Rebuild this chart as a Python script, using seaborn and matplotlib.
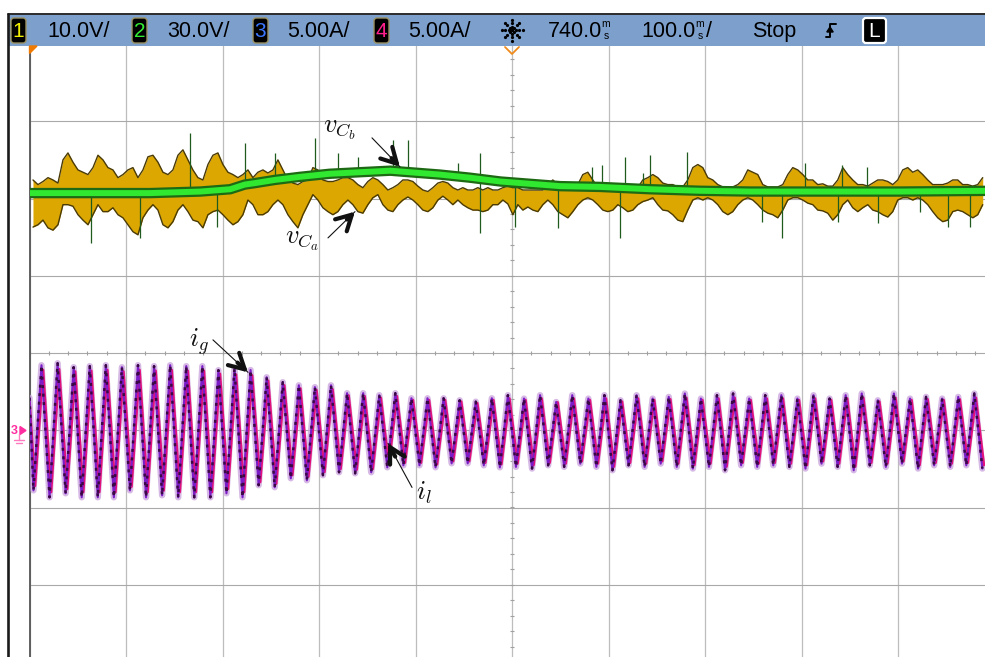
import numpy as np
import matplotlib
matplotlib.use("Agg")
import matplotlib.pyplot as plt
import seaborn as sns
from matplotlib.patches import Rectangle, FancyBboxPatch, Polygon, FancyArrowPatch

# ------------------------------------------------------------------ data
# timebase 100 ms/div, trigger at 740 ms -> screen spans 240 .. 1240 ms
T_START, T_END = 240.0, 1240.0
Y_MIN, Y_MAX = -4.0, 4.0          # 8 vertical divisions

# v_Ca (ch1) band, upper / lower envelope in screen divisions,
# samples every 5.18 ms starting at 243.6 ms
VC_T0, VC_DT = 243.6, 5.18
vca_hi = [2.24, 2.18, 2.22, 2.27, 2.24, 2.20, 2.50, 2.59, 2.47, 2.37,
          2.34, 2.31, 2.40, 2.56, 2.50, 2.40, 2.37, 2.27, 2.31, 2.37,
          2.40, 2.27, 2.37, 2.54, 2.56, 2.47, 2.34, 2.31, 2.37, 2.56,
          2.63, 2.50, 2.37, 2.27, 2.24, 2.44, 2.56, 2.59, 2.44, 2.34,
          2.31, 2.27, 2.31, 2.37, 2.27, 2.34, 2.37, 2.33, 2.37, 2.50,
          2.37, 2.24, 2.20, 2.18, 2.22, 2.24, 2.40, 2.37, 2.24, 2.22,
          2.22, 2.24, 2.27, 2.27, 2.24, 2.18, 2.14, 2.22, 2.27, 2.24,
          2.18, 2.11, 2.14, 2.18, 2.24, 2.24, 2.22, 2.16, 2.11, 2.09,
          2.14, 2.20, 2.22, 2.20, 2.14, 2.11, 2.14, 2.11, 2.11, 2.14,
          2.11, 2.14, 2.11, 2.11, 2.14, 2.16, 2.14, 2.14, 2.11, 2.11,
          2.11, 2.11, 2.11, 2.18, 2.24, 2.18, 2.14, 2.14, 2.14, 2.18,
          2.31, 2.34, 2.24, 2.14, 2.14, 2.14, 2.14, 2.18, 2.14, 2.14,
          2.16, 2.14, 2.24, 2.27, 2.31, 2.27, 2.20, 2.18, 2.18, 2.15,
          2.15, 2.24, 2.40, 2.44, 2.40, 2.27, 2.24, 2.18, 2.15, 2.14,
          2.15, 2.18, 2.24, 2.37, 2.34, 2.31, 2.18, 2.15, 2.15, 2.15,
          2.18, 2.31, 2.40, 2.37, 2.31, 2.24, 2.24, 2.18, 2.19, 2.16,
          2.16, 2.24, 2.40, 2.31, 2.24, 2.18, 2.18, 2.16, 2.20, 2.24,
          2.24, 2.22, 2.18, 2.24, 2.37, 2.40, 2.34, 2.37, 2.31, 2.24,
          2.18, 2.18, 2.18, 2.20, 2.24, 2.24, 2.18, 2.18, 2.16, 2.18,
          2.27]
vca_lo = [1.63, 1.66, 1.72, 1.62, 1.59, 1.66, 1.92, 1.92, 1.90, 1.79,
          1.72, 1.66, 1.79, 1.92, 1.83, 1.83, 1.88, 1.79, 1.75, 1.66,
          1.57, 1.53, 1.75, 1.85, 1.92, 1.85, 1.66, 1.62, 1.70, 1.85,
          1.92, 1.83, 1.72, 1.70, 1.62, 1.79, 1.83, 1.85, 1.79, 1.72,
          1.66, 1.70, 1.79, 1.98, 1.92, 1.79, 1.79, 1.83, 1.92, 1.98,
          1.92, 1.79, 1.70, 1.62, 1.79, 1.92, 2.05, 1.98, 1.88, 1.83,
          1.79, 1.83, 1.92, 1.98, 1.92, 1.83, 1.81, 1.92, 2.01, 2.05,
          1.92, 1.85, 1.83, 1.92, 1.98, 2.02, 1.98, 1.92, 1.85, 1.83,
          1.88, 1.98, 2.03, 1.98, 1.92, 1.98, 1.92, 1.88, 1.85, 1.85,
          1.83, 1.85, 1.92, 1.92, 1.98, 1.93, 1.79, 1.92, 1.85, 1.89,
          1.85, 1.83, 1.92, 1.98, 1.92, 1.83, 1.79, 1.75, 1.83, 1.92,
          1.98, 2.01, 1.98, 1.92, 1.85, 1.83, 1.85, 1.92, 1.88, 1.83,
          1.85, 1.92, 1.96, 1.98, 2.01, 1.92, 1.85, 1.84, 1.79, 1.72,
          1.70, 1.85, 1.98, 2.01, 1.98, 2.01, 1.98, 1.92, 1.83, 1.79,
          1.83, 1.92, 1.98, 2.01, 1.98, 1.92, 1.85, 1.81, 1.79, 1.75,
          1.85, 1.98, 2.01, 2.01, 1.98, 1.94, 1.92, 1.85, 1.84, 1.81,
          1.72, 1.79, 1.92, 1.98, 1.88, 1.83, 1.88, 1.92, 1.85, 1.83,
          1.79, 1.76, 1.83, 1.98, 2.01, 2.01, 1.98, 2.01, 1.98, 1.92,
          1.83, 1.75, 1.70, 1.72, 1.83, 1.85, 1.83, 1.79, 1.75, 1.79,
          1.92]

# v_Cb (ch2) trace centre, screen divisions
vcb_t = [240, 313, 365, 417, 448, 463, 474, 494, 520, 551, 582, 614, 634,
         665, 696, 728, 759, 790, 831, 883, 935, 987, 1038, 1142, 1240]
vcb_v = [2.07, 2.07, 2.07, 2.09, 2.12, 2.18, 2.20, 2.24, 2.28, 2.32, 2.34,
         2.36, 2.34, 2.31, 2.27, 2.22, 2.19, 2.16, 2.15, 2.12, 2.10, 2.09,
         2.09, 2.09, 2.10]

# narrow glitches on the voltage traces (time ms, tip in divisions)
spike_t = [303.7, 354.5, 406.3, 434.3, 463.3, 494.4, 535.8, 559.7, 580.4,
           616.7, 632.2, 684.0, 706.8, 706.8, 743.1, 787.7, 822.9, 833.3,
           851.9, 857.1, 875.8, 883.0, 921.4, 999.1, 1019.8, 1043.6, 1077.8,
           1082.0, 1107.9, 1119.3, 1162.8, 1191.8, 1214.6]
spike_v = [1.42, 1.49, 2.85, 1.63, 2.72, 2.59, 2.78, 2.59, 2.54,
           2.76, 2.76, 2.46, 2.59, 1.55, 1.63, 1.62, 2.41, 2.44,
           1.49, 2.54, 2.33, 2.56, 2.60, 1.70, 1.49, 2.46, 1.70,
           2.44, 2.41, 1.68, 1.83, 1.63, 1.63]

# currents (A), 5 A/div, ground marker at -1 div; 60 Hz grid
F_GRID = 60.0
I_SCALE = 5.0
I_GND = -1.0
I_T0 = 244.1            # first negative extreme (ms)
I_LAG = 1.5             # i_l lags i_g slightly (ms)
ig_start, il_start = 2.1, 1.8
ig_peaks = [4.21, 4.34, 4.08, 4.15, 4.21, 4.08, 4.21, 4.15, 4.21, 4.15,
            4.15, 3.89, 4.00, 3.90, 3.43, 3.11, 2.91, 2.79, 2.91, 2.40,
            2.40, 2.27, 2.40, 2.07, 2.07, 2.07, 1.94, 1.85, 2.07, 2.27,
            2.05, 2.27, 1.83, 2.27, 2.05, 2.27, 1.94, 2.27, 2.05, 2.16,
            2.38, 2.05, 2.27, 2.38, 2.05, 2.27, 2.27, 2.05, 2.27, 2.05,
            2.27, 2.38, 1.94, 2.38, 2.05, 2.16, 2.05, 2.16, 2.38]
ig_troughs = [-3.89, -4.34, -4.08, -4.34, -4.34, -4.34, -3.89, -4.34, -4.21, -4.34,
              -4.34, -4.34, -4.08, -4.34, -3.56, -3.69, -3.11, -3.24, -2.91, -2.72,
              -2.79, -2.72, -2.40, -2.27, -2.27, -2.40, -2.14, -2.14, -2.27, -2.40,
              -2.37, -2.48, -2.27, -2.37, -2.16, -2.37, -2.59, -2.27, -2.37, -2.16,
              -2.37, -2.48, -2.37, -2.59, -2.27, -2.37, -2.27, -2.37, -2.48, -2.16,
              -2.37, -2.59, -2.27, -2.37, -2.16, -2.48, -2.27, -2.37, -2.27, -2.48]
il_peaks = [3.90, 3.95, 3.80, 3.85, 3.90, 3.80, 3.90, 3.85, 3.90, 3.85,
            3.85, 3.65, 3.60, 3.55, 3.20, 2.90, 2.70, 2.60, 2.65, 2.25,
            2.20, 2.10, 2.20, 1.95, 1.95, 1.95, 1.85, 1.75, 1.95, 2.05,
            1.95, 2.05, 1.80, 2.05, 1.95, 2.05, 1.85, 2.05, 1.95, 2.00,
            2.10, 1.95, 2.05, 2.10, 1.95, 2.05, 2.05, 1.95, 2.05, 1.95,
            2.05, 2.10, 1.85, 2.10, 1.95, 2.00, 1.95, 2.00, 2.10]
il_troughs = [-3.60, -4.00, -3.80, -4.00, -4.00, -4.00, -3.65, -4.00, -3.90, -4.00,
              -4.00, -4.00, -3.80, -4.00, -3.35, -3.45, -2.90, -3.00, -2.70, -2.50,
              -2.55, -2.50, -2.20, -2.10, -2.10, -2.20, -2.00, -2.00, -2.10, -2.20,
              -2.15, -2.25, -2.10, -2.15, -2.00, -2.15, -2.35, -2.10, -2.15, -2.00,
              -2.15, -2.25, -2.15, -2.35, -2.10, -2.15, -2.10, -2.15, -2.25, -2.00,
              -2.15, -2.35, -2.10, -2.15, -2.00, -2.25, -2.10, -2.15, -2.10, -2.25]

header_scales = ["10.0V/", "30.0V/", "5.00A/", "5.00A/"]
header_ch = ["1", "2", "3", "4"]
header_ch_colors = ["#f2ee00", "#33ee33", "#3c78ff", "#ff1f8c"]

# ------------------------------------------------------------------ style
sns.set_style("white")
plt.rcParams["font.family"] = ["Liberation Sans", "DejaVu Sans"]
plt.rcParams["mathtext.fontset"] = "cm"
plt.rcParams["text.color"] = "black"

W, H = 985, 657
fig = plt.figure(figsize=(W / 100, H / 100), dpi=100)
fig.patch.set_facecolor("white")

# main scope axes: grid spans x 29.5..994.5 px, y 44..662 px
ax = fig.add_axes([29.5 / W, 1 - 662 / H, 965 / W, 618 / H])
ax.set_xlim(T_START, T_END)
ax.set_ylim(Y_MIN, Y_MAX)
ax.set_xticks([]); ax.set_yticks([])
for s in ["top", "right", "bottom"]:
    ax.spines[s].set_visible(False)
ax.spines["left"].set_color("#555555")
ax.spines["left"].set_linewidth(1.3)

# graticule
for k in range(11):
    ax.axvline(T_START + 100 * k, color="#bdbdbd", lw=0.9, zorder=0)
for k in range(-4, 5):
    ax.axhline(k, color="#a9a9a9", lw=0.8, zorder=0)
tx = np.arange(T_START, T_END + 1, 20)
ax.vlines(tx, -0.028, 0.028, color="#a0a0a0", lw=0.8, zorder=0)
ty = np.arange(Y_MIN, Y_MAX + 0.01, 0.2)
ax.hlines(ty, 740 - 2.3, 740 + 2.3, color="#a0a0a0", lw=0.8, zorder=0)

# ---- voltage traces
n = min(len(vca_hi), len(vca_lo))
t_v = VC_T0 + VC_DT * np.arange(n)
hi = np.array(vca_hi[:n]); lo = np.array(vca_lo[:n])
ax.fill_between(t_v, lo, hi, color="#dba700", lw=0, zorder=2)
sns.lineplot(x=t_v, y=hi, ax=ax, color="#4a3a06", lw=1.0, estimator=None, sort=False, zorder=3)
sns.lineplot(x=t_v, y=lo, ax=ax, color="#4a3a06", lw=1.0, estimator=None, sort=False, zorder=3)

base = np.interp(spike_t, vcb_t, vcb_v)
ax.vlines(spike_t, base, spike_v, color="#1f5a1f", lw=0.9, zorder=3.5)

sns.lineplot(x=vcb_t, y=vcb_v, ax=ax, color="#1e6a14", lw=7.5, estimator=None, sort=False, zorder=4)
sns.lineplot(x=vcb_t, y=vcb_v, ax=ax, color="#2fe82f", lw=4.3, estimator=None, sort=False, zorder=4.1)


# ---- current traces
def interleave(tr, pk):
    out = []
    for k in range(len(tr)):
        out.append(tr[k])
        if k < len(pk):
            out.append(pk[k])
    return np.array(out)


half = 1000.0 / F_GRID / 2
ig = interleave(ig_troughs, ig_peaks)
il = interleave(il_troughs, il_peaks)
t_ig = np.concatenate([[T_START], I_T0 + half * np.arange(len(ig))])
t_il = np.concatenate([[T_START], I_T0 + I_LAG + half * np.arange(len(il))])
ig_d = I_GND + np.concatenate([[ig_start], ig]) / I_SCALE
il_d = I_GND + np.concatenate([[il_start], il]) / I_SCALE

sns.lineplot(x=t_ig, y=ig_d, ax=ax, color="#c9a2dc", lw=4.6, alpha=0.75, estimator=None, sort=False, zorder=5)
sns.lineplot(x=t_il, y=il_d, ax=ax, color="#e2127c", lw=2.0, estimator=None, sort=False, zorder=6)
sns.lineplot(x=t_ig, y=ig_d, ax=ax, color="#7a1cc8", lw=1.5, estimator=None, sort=False, zorder=6.5)
dk, = ax.plot(t_ig, ig_d, color="#3b0846", lw=1.8, zorder=7)
dk.set_dashes([1.2, 2.2])

# ---- annotations (math labels + arrows)
lab_kw = dict(fontsize=19, color="#111111", zorder=10)
ax.text(544.1, 2.85, r"$v_{C_b}$", ha="left", va="baseline", **lab_kw)
ax.text(504.8, 1.425, r"$v_{C_a}$", ha="left", va="baseline", **lab_kw)
ax.text(405.3, 0.08, r"$i_g$", ha="left", va="baseline", **lab_kw)
ax.text(640.5, -1.90, r"$i_l$", ha="left", va="baseline", **lab_kw)


def arrow(tail, tip):
    ax.annotate("", xy=tip, xytext=tail,
                arrowprops=dict(arrowstyle="-", lw=0.8, color="#111111",
                                shrinkA=0, shrinkB=0), zorder=10)
    near = (tip[0] + 0.3 * (tail[0] - tip[0]), tip[1] + 0.3 * (tail[1] - tip[1]))
    ap = FancyArrowPatch(near, tip, arrowstyle="->,head_length=0.55,head_width=0.3",
                         mutation_scale=20, lw=3.0, color="#111111",
                         shrinkA=0, shrinkB=0, zorder=10)
    ax.add_patch(ap)


arrow((594.9, 2.785), (623.9, 2.41))
arrow((549.3, 1.49), (577.3, 1.83))
arrow((430.1, 0.17), (466.4, -0.25))
arrow((636.4, -1.74), (611.5, -1.17))

# ------------------------------------------------------------------ overlay (pixel coords)
ov = fig.add_axes([0, 0, 1, 1], zorder=20)
ov.set_xlim(0, W); ov.set_ylim(H, 0)
ov.axis("off")
ov.patch.set_alpha(0)

# header bar
ov.add_patch(Rectangle((8, 14), W - 8, 32, facecolor="#7c9fcc", edgecolor="none"))
ov.plot([8, W], [14, 14], color="#2b2b2b", lw=1.4)
ov.plot([8, 8], [14, H], color="#1a1a1a", lw=1.9)

box_x = [10, 131, 252, 373]
txt_x = [47, 167, 287, 408]
for bx, tx_, ch, col, sc in zip(box_x, txt_x, header_ch, header_ch_colors, header_scales):
    ov.add_patch(FancyBboxPatch((bx + 1, 18), 15, 25, boxstyle="round,pad=0,rounding_size=3",
                                facecolor="black", edgecolor="#9a9060", lw=1.0))
    ov.text(bx + 8.5, 31.5, ch, color=col, fontsize=15, ha="center", va="center")
    ov.text(tx_, 31.5, sc, color="black", fontsize=15.5, ha="left", va="center")

# acquisition "sun" icon
cx, cy = 512, 30
for ang in np.arange(0, 360, 45):
    a = np.deg2rad(ang)
    rr = np.array([3.5, 7, 10.5])
    ov.plot(cx + rr * np.cos(a), cy + rr * np.sin(a), ls="none", marker="o",
            ms=1.3, color="black")
ov.plot([cx], [cy], marker="o", ms=1.5, color="black")

ov.text(548, 31.5, "740.0", color="black", fontsize=15.5, ha="left", va="center")
ov.text(606, 24, "m", color="black", fontsize=7.5, ha="center", va="center")
ov.text(606, 36, "s", color="black", fontsize=7.5, ha="center", va="center")
ov.text(641, 31.5, "100.0", color="black", fontsize=15.5, ha="left", va="center")
ov.text(700, 24, "m", color="black", fontsize=7.5, ha="center", va="center")
ov.text(700, 36, "s", color="black", fontsize=7.5, ha="center", va="center")
ov.text(706, 31.5, "/", color="black", fontsize=15.5, ha="left", va="center")
ov.text(752, 31.5, "Stop", color="black", fontsize=15.5, ha="left", va="center")

# trigger edge symbol
ov.plot([825.5, 830, 830, 835.5], [37, 37, 24, 24], color="black", lw=1.4)
ov.add_patch(Polygon([[826.8, 32], [833.2, 32], [830, 27]], closed=True, color="black"))

# "L" box
ov.add_patch(FancyBboxPatch((863, 18), 23, 25, boxstyle="round,pad=0,rounding_size=3",
                            facecolor="black", edgecolor="white", lw=1.6))
ov.text(874.5, 31.5, "L", color="white", fontsize=15, ha="center", va="center")

# trigger position markers
ov.add_patch(Polygon([[29.5, 46], [37, 46], [29.5, 53.5]], closed=True, color="#f07a00"))
ov.plot([505, 512, 519], [47, 54, 47], color="#f08a1a", lw=1.3)

# channel-3 ground marker
ov.text(14, 431, "3", color="#ff2ea0", fontsize=9, fontweight="bold", ha="center", va="center")
ov.add_patch(Polygon([[20, 426.5], [20, 434.5], [26, 430.5]], closed=True, color="#ff2ea0"))
ov.plot([19, 19], [434, 440], color="#ff7ac0", lw=1.0)
ov.plot([14, 24], [440, 440], color="#ff7ac0", lw=1.0)
ov.plot([16, 22], [443, 443], color="#ff7ac0", lw=1.0)

fig.savefig("out.png", dpi=100, facecolor="white")
